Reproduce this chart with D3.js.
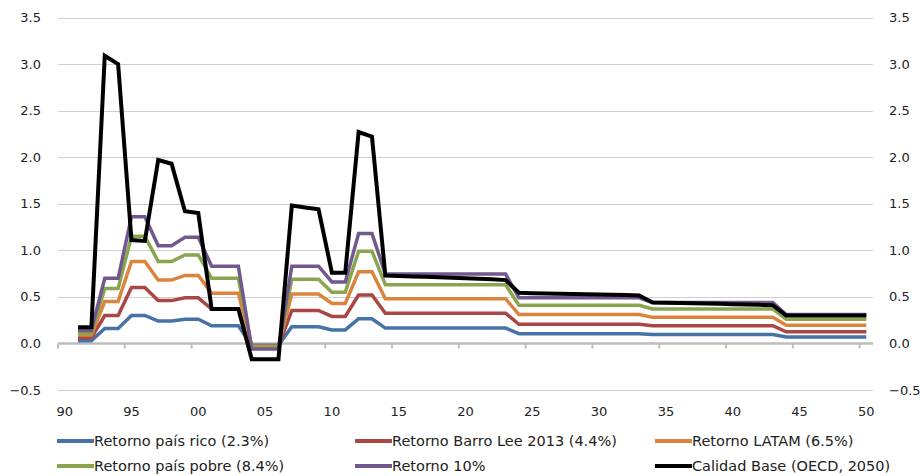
<!DOCTYPE html>
<html>
<head>
<meta charset="utf-8">
<script src="https://cdn.jsdelivr.net/npm/d3@7"></script>
<style>
  html, body { margin: 0; padding: 0; background: #fff; }
  svg { display: block; font-family: "DejaVu Sans", Verdana, sans-serif; }
</style>
</head>
<body>
<svg id="chart" width="920" height="476"></svg>
<script>
// Years on the category axis (labels every 5 years) and years with data
const axisYears = [1990,1991,1992,1993,1994,1995,1996,1997,1998,1999,2000,2001,2002,2003,2004,2005,2006,2007,2008,2009,2010,
  2011,2012,2013,2014,2015,2016,2017,2018,2019,2020,2021,2022,2023,2024,2025,2026,2027,2028,2029,2030,
  2031,2032,2033,2034,2035,2036,2037,2038,2039,2040,2041,2042,2043,2044,2045,2046,2047,2048,2049,2050];
const dataYears = axisYears.slice(1);

const yTicks = [-0.5, 0.0, 0.5, 1.0, 1.5, 2.0, 2.5, 3.0, 3.5];

const seriesNames = [
  "Retorno país rico (2.3%)",
  "Retorno Barro Lee 2013 (4.4%)",
  "Retorno LATAM (6.5%)",
  "Retorno país pobre (8.4%)",
  "Retorno 10%",
  "Calidad Base (OECD, 2050)"
];

// 1991 ... 2050
const retornoRico = [0.03,0.03,0.16,0.16,0.30,0.30,0.24,0.24,0.26,0.26,0.19,0.19,0.19,-0.02,-0.02,-0.02,
  0.18,0.18,0.18,0.145,0.145,0.265,0.265,
  0.165,0.165,0.165,0.165,0.165,0.165,0.165,0.165,0.165,0.165,
  0.105,0.105,0.105,0.105,0.105,0.105,0.105,0.105,0.105,0.105,
  0.095,0.095,0.095,0.095,0.095,0.095,0.095,0.095,0.095,0.095,
  0.07,0.07,0.07,0.07,0.07,0.07,0.07];
const retornoBarroLee = [0.06,0.06,0.30,0.30,0.60,0.60,0.46,0.46,0.49,0.49,0.37,0.37,0.37,-0.03,-0.03,-0.03,
  0.355,0.355,0.355,0.29,0.29,0.52,0.52,
  0.325,0.325,0.325,0.325,0.325,0.325,0.325,0.325,0.325,0.325,
  0.205,0.205,0.205,0.205,0.205,0.205,0.205,0.205,0.205,0.205,
  0.19,0.19,0.19,0.19,0.19,0.19,0.19,0.19,0.19,0.19,
  0.125,0.125,0.125,0.125,0.125,0.125,0.125];
const retornoLatam = [0.09,0.09,0.45,0.45,0.88,0.88,0.68,0.68,0.73,0.73,0.54,0.54,0.54,-0.03,-0.03,-0.03,
  0.53,0.53,0.53,0.43,0.43,0.77,0.77,
  0.48,0.48,0.48,0.48,0.48,0.48,0.48,0.48,0.48,0.48,
  0.31,0.31,0.31,0.31,0.31,0.31,0.31,0.31,0.31,0.31,
  0.28,0.28,0.28,0.28,0.28,0.28,0.28,0.28,0.28,0.28,
  0.195,0.195,0.195,0.195,0.195,0.195,0.195];
const retornoPobre = [0.11,0.11,0.59,0.59,1.15,1.15,0.88,0.88,0.95,0.95,0.70,0.70,0.70,-0.04,-0.04,-0.04,
  0.69,0.69,0.69,0.55,0.55,0.99,0.99,
  0.63,0.63,0.63,0.63,0.63,0.63,0.63,0.63,0.63,0.63,
  0.41,0.41,0.41,0.41,0.41,0.41,0.41,0.41,0.41,0.41,
  0.37,0.37,0.37,0.37,0.37,0.37,0.37,0.37,0.37,0.37,
  0.26,0.26,0.26,0.26,0.26,0.26,0.26];
const retorno10 = [0.14,0.14,0.70,0.70,1.36,1.36,1.05,1.05,1.14,1.14,0.83,0.83,0.83,-0.06,-0.06,-0.06,
  0.83,0.83,0.83,0.66,0.66,1.18,1.18,
  0.745,0.745,0.745,0.745,0.745,0.745,0.745,0.745,0.745,0.745,
  0.49,0.49,0.49,0.49,0.49,0.49,0.49,0.49,0.49,0.49,
  0.44,0.44,0.44,0.44,0.44,0.44,0.44,0.44,0.44,0.44,
  0.31,0.31,0.31,0.31,0.31,0.31,0.31];
const calidadBase = [0.175,0.175,3.09,3.00,1.11,1.10,1.97,1.93,1.42,1.40,0.37,0.37,0.37,-0.17,-0.17,-0.17,
  1.48,1.46,1.44,0.76,0.76,2.27,2.22,
  0.73,0.725,0.72,0.715,0.71,0.705,0.70,0.695,0.69,0.68,
  0.545,0.54,0.537,0.534,0.531,0.528,0.525,0.522,0.519,0.515,
  0.44,0.437,0.434,0.431,0.428,0.425,0.422,0.419,0.415,0.41,
  0.30,0.30,0.30,0.30,0.30,0.30,0.30];

const seriesValues = [retornoRico, retornoBarroLee, retornoLatam, retornoPobre, retorno10, calidadBase];
const seriesColors = ["#4572A7", "#AA4643", "#DB843D", "#89A54E", "#71588F", "#000000"];
const seriesWidths = [3.5, 3.5, 3.5, 3.5, 3.5, 4];

const svg = d3.select("#chart");
const plot = { left: 58, right: 873, top: 17.5, bottom: 390 };

const x = d3.scaleBand().domain(axisYears).range([plot.left, plot.right]).padding(0);
const y = d3.scaleLinear().domain([-0.5, 3.5]).range([plot.bottom, plot.top]);
const xc = yr => x(yr) + x.bandwidth() / 2;

// horizontal gridlines
svg.append("g").selectAll("line")
  .data(yTicks.filter(v => v !== 0))
  .join("line")
  .attr("x1", plot.left).attr("x2", plot.right)
  .attr("y1", d => Math.round(y(d)) + 0.5).attr("y2", d => Math.round(y(d)) + 0.5)
  .attr("stroke", "#cfcfcf").attr("stroke-width", 1.2);

// zero line with category tick marks
const zeroY = y(0);
svg.append("line")
  .attr("x1", plot.left).attr("x2", plot.right)
  .attr("y1", zeroY).attr("y2", zeroY)
  .attr("stroke", "#bdbdbd").attr("stroke-width", 2.5);
svg.append("g").selectAll("line")
  .data(axisYears.filter(d => d % 5 === 0))
  .join("line")
  .attr("x1", d => x(d)).attr("x2", d => x(d))
  .attr("y1", zeroY).attr("y2", zeroY + 5)
  .attr("stroke", "#bdbdbd").attr("stroke-width", 2);

// left and right value axes (labels only)
const fmt = d3.format(".1f");
const yLabel = v => fmt(v).replace("-", "\u2212");
svg.append("g").selectAll("text")
  .data(yTicks).join("text")
  .attr("x", 41).attr("y", d => y(d)).attr("dy", "0.35em")
  .attr("text-anchor", "end").attr("font-size", 13).attr("fill", "#222")
  .text(yLabel);
svg.append("g").selectAll("text")
  .data(yTicks).join("text")
  .attr("x", 889).attr("y", d => y(d)).attr("dy", "0.35em")
  .attr("text-anchor", "start").attr("font-size", 13).attr("fill", "#222")
  .text(yLabel);

// category labels
svg.append("g").selectAll("text")
  .data(axisYears.filter(d => d % 5 === 0))
  .join("text")
  .attr("x", d => xc(d)).attr("y", 411).attr("dy", "0.35em")
  .attr("text-anchor", "middle").attr("font-size", 13).attr("fill", "#222")
  .text(d => String(d).slice(2));

// series lines
const line = d3.line().x(d => xc(d[0])).y(d => y(d[1]));
seriesValues.forEach((vals, i) => {
  svg.append("path")
    .datum(dataYears.map((yr, j) => [yr, vals[j]]))
    .attr("d", line)
    .attr("fill", "none")
    .attr("stroke", seriesColors[i])
    .attr("stroke-width", seriesWidths[i])
    .attr("stroke-linejoin", "miter")
    .attr("stroke-linecap", "butt");
});

// legend: three columns, two rows
const legendCols = [57, 355, 655];
const legendRows = [441, 466];
const legend = svg.append("g").selectAll("g")
  .data(seriesNames).join("g")
  .attr("transform", (d, i) => `translate(${legendCols[i % 3]},${legendRows[Math.floor(i / 3)]})`);
legend.append("line")
  .attr("x1", 0).attr("x2", 37).attr("y1", 0).attr("y2", 0)
  .attr("stroke", (d, i) => seriesColors[i]).attr("stroke-width", 4);
legend.append("text")
  .attr("x", 37).attr("y", 0).attr("dy", "0.35em")
  .attr("font-size", 14.5).attr("fill", "#222")
  .text(d => d);
</script>
</body>
</html>
